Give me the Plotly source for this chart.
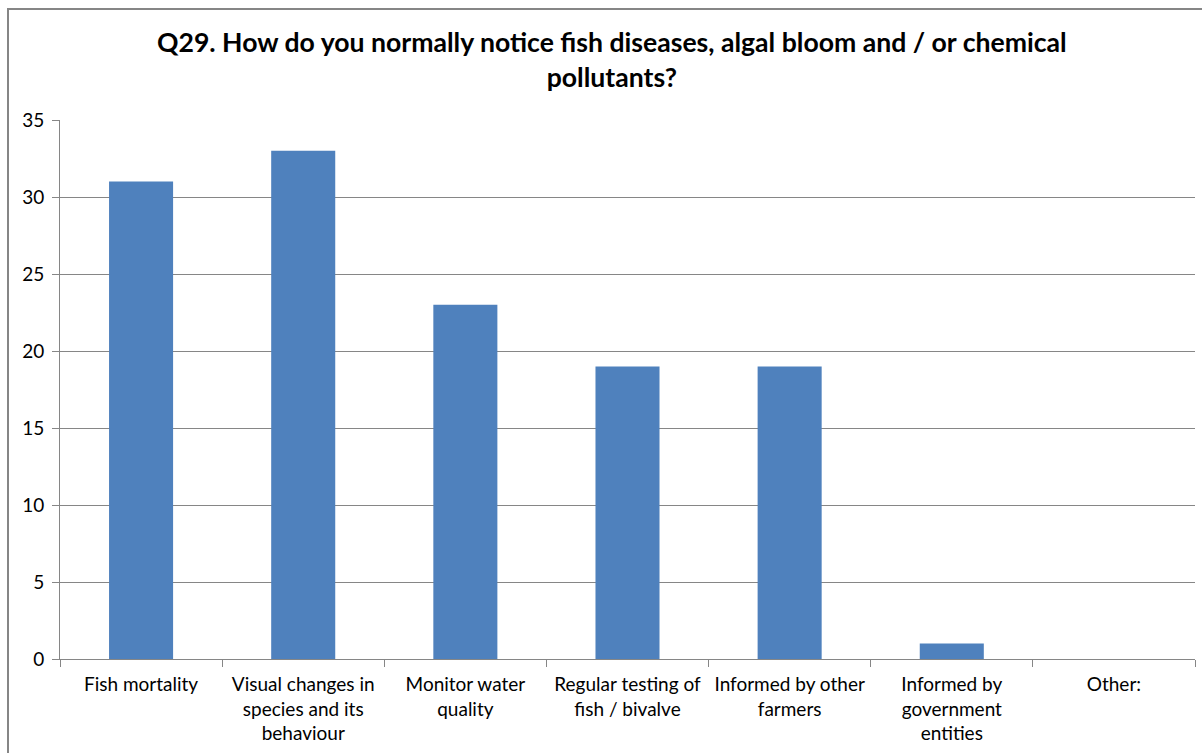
import plotly.graph_objects as go

categories = [
    "Fish mortality",
    "Visual changes in<br>species and its<br>behaviour",
    "Monitor water<br>quality",
    "Regular testing of<br>fish / bivalve",
    "Informed by other<br>farmers",
    "Informed by<br>government<br>entities",
    "Other:",
]
values = [31, 33, 23, 19, 19, 1, 0]
y_ticks = [0, 5, 10, 15, 20, 25, 30, 35]

title_text = "Q29. How do you normally notice fish diseases, algal bloom and / or chemical<br>pollutants?"

positions = list(range(len(categories)))
boundaries = [p - 0.5 for p in positions] + [positions[-1] + 0.5]

FONT = "Lato, Calibri, Carlito, sans-serif"
GRID = "#868686"

fig = go.Figure(
    go.Bar(
        x=positions,
        y=values,
        marker=dict(color="#4F81BD", line=dict(width=0)),
        width=0.395,
    )
)

fig.update_layout(
    width=1202,
    height=753,
    margin=dict(l=60, r=7, t=120, b=94),
    paper_bgcolor="white",
    plot_bgcolor="white",
    showlegend=False,
    font=dict(family=FONT, size=19, color="#000000"),
    title=dict(
        text="<b>" + title_text + "</b>",
        x=0.509,
        xanchor="center",
        y=0.931,
        yanchor="top",
        font=dict(family=FONT, size=26.6, color="#000000"),
    ),
    shapes=[
        dict(
            type="rect",
            xref="paper",
            yref="paper",
            x0=(8 - 60) / 1135,
            x1=1.2,
            y0=-0.5,
            y1=(659 - 9) / 539,
            line=dict(color=GRID, width=2),
            fillcolor="rgba(0,0,0,0)",
            layer="below",
        )
    ],
)

fig.update_xaxes(
    range=[-0.5, len(categories) - 0.5],
    tickmode="array",
    tickvals=positions,
    ticktext=categories,
    ticks="",
    showgrid=False,
    showline=True,
    linecolor=GRID,
    linewidth=1,
    tickfont=dict(family=FONT, size=19, color="#000000"),
    ticklabelstandoff=8,
    minor=dict(
        tickmode="array",
        tickvals=boundaries,
        ticks="outside",
        ticklen=7,
        tickcolor=GRID,
        tickwidth=1,
        showgrid=False,
    ),
    fixedrange=True,
)

fig.update_yaxes(
    range=[0, 35],
    tickmode="array",
    tickvals=y_ticks,
    ticks="outside",
    ticklen=7,
    tickcolor=GRID,
    showgrid=True,
    gridcolor=GRID,
    gridwidth=1,
    showline=True,
    linecolor=GRID,
    linewidth=1,
    zeroline=False,
    tickfont=dict(family=FONT, size=19, color="#000000"),
    ticklabelstandoff=4,
    fixedrange=True,
)

fig.write_html("out.html")
